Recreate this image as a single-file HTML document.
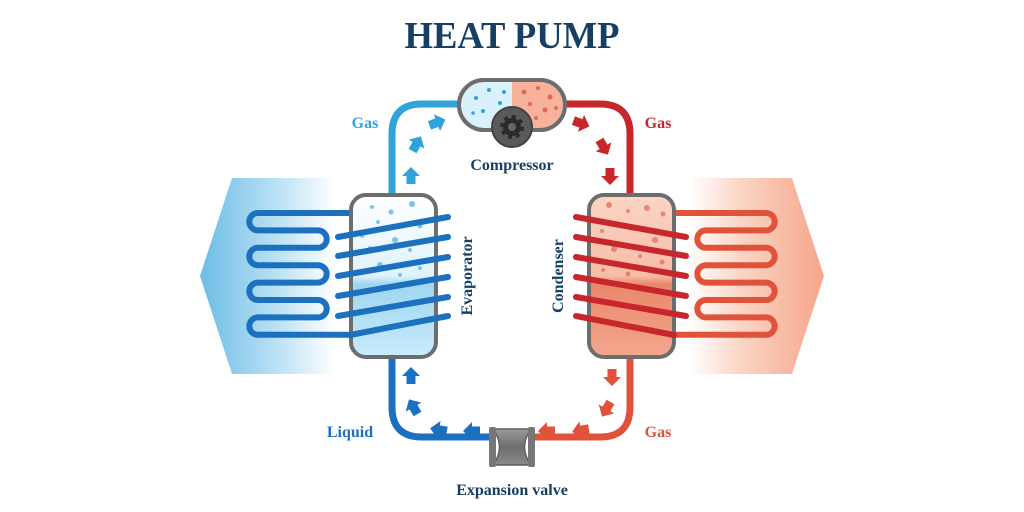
<!DOCTYPE html>
<html><head><meta charset="utf-8"><style>
html,body{margin:0;padding:0;background:#fff;width:1024px;height:512px;overflow:hidden}
svg{display:block}
text{font-family:"Liberation Serif",serif;font-weight:bold}
</style></head><body>
<svg width="1024" height="512" viewBox="0 0 1024 512" xmlns="http://www.w3.org/2000/svg">
<defs>
<linearGradient id="lb" x1="0" x2="1" y1="0" y2="0"><stop offset="0" stop-color="#6cbde6"/><stop offset="0.6" stop-color="#bfe3f5"/><stop offset="1" stop-color="#fff"/></linearGradient>
<linearGradient id="rb" x1="1" x2="0" y1="0" y2="0"><stop offset="0" stop-color="#f6a58a"/><stop offset="0.6" stop-color="#fbd3c3"/><stop offset="1" stop-color="#fff"/></linearGradient>
<linearGradient id="et" x1="0" x2="0" y1="0" y2="1"><stop offset="0" stop-color="#fff"/><stop offset="0.5" stop-color="#dff2fb"/><stop offset="0.55" stop-color="#9fd6f0"/><stop offset="1" stop-color="#c8ecfa"/></linearGradient>
<linearGradient id="ct" x1="0" x2="0" y1="0" y2="1"><stop offset="0" stop-color="#fbd5c6"/><stop offset="0.5" stop-color="#f7bda6"/><stop offset="0.55" stop-color="#ea876b"/><stop offset="1" stop-color="#f3a88e"/></linearGradient>
<linearGradient id="vg" x1="0" x2="0" y1="0" y2="1"><stop offset="0" stop-color="#9a9a9a"/><stop offset="0.5" stop-color="#6e6e6e"/><stop offset="1" stop-color="#8a8a8a"/></linearGradient>
<g id="ar"><path d="M-7,-4.5 L1,-4.5 L1,-9 L10,0 L1,9 L1,4.5 L-7,4.5 Z"/></g>
</defs>

<text x="512" y="48" text-anchor="middle" font-size="38" fill="#163f63" textLength="215" lengthAdjust="spacingAndGlyphs">HEAT PUMP</text>

<polygon points="232,178 335,178 335,374 232,374 200,276" fill="url(#lb)"/>
<polygon points="792,178 689,178 689,374 792,374 824,276" fill="url(#rb)"/>

<path d="M392,193 V134 Q392,104 422,104 H460" fill="none" stroke="#2ea3dc" stroke-width="7"/>
<path d="M564,104 H600 Q630,104 630,134 V193" fill="none" stroke="#c8262d" stroke-width="7"/>
<path d="M392,358 V407 Q392,437 422,437 H492" fill="none" stroke="#1b70c0" stroke-width="7"/>
<path d="M532,437 H600 Q630,437 630,407 V358" fill="none" stroke="#e0533a" stroke-width="7"/>

<g fill="#2ea3dc">
<use href="#ar" transform="translate(411,177) rotate(-90)"/>
<use href="#ar" transform="translate(416,145) rotate(-60)"/>
<use href="#ar" transform="translate(436,123) rotate(-20)"/>
</g>
<g fill="#c8262d">
<use href="#ar" transform="translate(580,123) rotate(20)"/>
<use href="#ar" transform="translate(603,146) rotate(60)"/>
<use href="#ar" transform="translate(610,175) rotate(90)"/>
</g>
<g fill="#e0533a">
<use href="#ar" transform="translate(612,376) rotate(90)"/>
<use href="#ar" transform="translate(607,408) rotate(120)"/>
<use href="#ar" transform="translate(582,430) rotate(170)"/>
<use href="#ar" transform="translate(548,431) rotate(180)"/>
</g>
<g fill="#1b70c0">
<use href="#ar" transform="translate(473,431) rotate(180)"/>
<use href="#ar" transform="translate(440,430) rotate(190)"/>
<use href="#ar" transform="translate(414,408) rotate(240)"/>
<use href="#ar" transform="translate(411,377) rotate(270)"/>
</g>

<path d="M350,213 H258 a8.7,8.7 0 0 0 0,17.4 H318 a8.7,8.7 0 0 1 0,17.4 H258 a8.7,8.7 0 0 0 0,17.4 H318 a8.7,8.7 0 0 1 0,17.4 H258 a8.7,8.7 0 0 0 0,17.4 H318 a8.7,8.7 0 0 1 0,17.4 H258 a8.7,8.7 0 0 0 0,17.4 H350" fill="none" stroke="#1b70c0" stroke-width="6"/>
<path d="M674,213 H766 a8.7,8.7 0 0 1 0,17.4 H706 a8.7,8.7 0 0 0 0,17.4 H766 a8.7,8.7 0 0 1 0,17.4 H706 a8.7,8.7 0 0 0 0,17.4 H766 a8.7,8.7 0 0 1 0,17.4 H706 a8.7,8.7 0 0 0 0,17.4 H766 a8.7,8.7 0 0 1 0,17.4 H674" fill="none" stroke="#e0533a" stroke-width="6"/>

<rect x="351" y="195" width="85" height="162" rx="15" fill="url(#et)" stroke="#6d6d6d" stroke-width="4"/>
<rect x="589" y="195" width="85" height="162" rx="15" fill="url(#ct)" stroke="#6d6d6d" stroke-width="4"/>
<g fill="#5cb8e6" opacity="0.8">
<circle cx="372" cy="207" r="2"/><circle cx="391" cy="212" r="2.5"/><circle cx="412" cy="204" r="3"/><circle cx="378" cy="222" r="2"/><circle cx="420" cy="226" r="2.5"/><circle cx="395" cy="240" r="3"/><circle cx="370" cy="248" r="2"/><circle cx="410" cy="250" r="2"/><circle cx="380" cy="265" r="3"/><circle cx="420" cy="268" r="2"/><circle cx="400" cy="275" r="2"/><circle cx="362" cy="236" r="2"/></g>
<g fill="#e06a55" opacity="0.7">
<circle cx="609" cy="205" r="3"/><circle cx="628" cy="211" r="2"/><circle cx="647" cy="208" r="3"/><circle cx="663" cy="214" r="2.5"/><circle cx="602" cy="231" r="2"/><circle cx="632" cy="228" r="2.5"/><circle cx="655" cy="240" r="3"/><circle cx="614" cy="249" r="3"/><circle cx="640" cy="256" r="2"/><circle cx="662" cy="262" r="2.5"/><circle cx="603" cy="270" r="2"/><circle cx="628" cy="274" r="2.5"/></g>

<g stroke="#1b70c0" stroke-width="6" stroke-linecap="round">
<line x1="338" y1="237" x2="448" y2="217"/><line x1="338" y1="256" x2="448" y2="237"/><line x1="338" y1="276" x2="448" y2="257"/><line x1="338" y1="296" x2="448" y2="277"/><line x1="338" y1="316" x2="448" y2="297"/><line x1="350" y1="335" x2="448" y2="316"/>
</g>
<g stroke="#c8262d" stroke-width="6" stroke-linecap="round">
<line x1="686" y1="237" x2="576" y2="217"/><line x1="686" y1="256" x2="576" y2="237"/><line x1="686" y1="276" x2="576" y2="257"/><line x1="686" y1="296" x2="576" y2="277"/><line x1="686" y1="316" x2="576" y2="297"/><line x1="674" y1="335" x2="576" y2="316"/>
</g>

<rect x="459" y="80" width="106" height="50" rx="25" fill="#d9f1fb" stroke="#6d6d6d" stroke-width="4"/>
<path d="M512,82 H540 a23,23 0 0 1 0,46 H512 Z" fill="#f7b29b"/>
<rect x="459" y="80" width="106" height="50" rx="25" fill="none" stroke="#6d6d6d" stroke-width="4"/>
<g fill="#2ea3dc"><circle cx="476" cy="98" r="2"/><circle cx="489" cy="90" r="2"/><circle cx="500" cy="103" r="2"/><circle cx="483" cy="111" r="2"/><circle cx="496" cy="118" r="2"/><circle cx="504" cy="92" r="2"/><circle cx="473" cy="113" r="1.8"/></g>
<g fill="#e06a55"><circle cx="524" cy="92" r="2.5"/><circle cx="538" cy="88" r="2"/><circle cx="550" cy="97" r="2.5"/><circle cx="530" cy="104" r="2"/><circle cx="545" cy="110" r="2.5"/><circle cx="556" cy="108" r="2"/><circle cx="536" cy="118" r="2"/></g>
<circle cx="512" cy="127" r="20" fill="#5a5a5a" stroke="#444" stroke-width="2"/>
<circle cx="512" cy="127" r="9" fill="#2b2b2b" stroke="#2b2b2b" stroke-width="6" stroke-dasharray="3.5 3.5"/>
<circle cx="512" cy="127" r="4" fill="#666"/>

<path d="M493,429 H531 Q518,447 531,465 H493 Q506,447 493,429 Z" fill="url(#vg)" stroke="#5e5e5e" stroke-width="1.5"/>
<rect x="489" y="427" width="7" height="40" rx="2" fill="#777"/>
<rect x="528" y="427" width="7" height="40" rx="2" fill="#777"/>

<text x="365" y="128" text-anchor="middle" font-size="16" fill="#2ea3dc">Gas</text>
<text x="658" y="128" text-anchor="middle" font-size="16" fill="#c8262d">Gas</text>
<text x="512" y="170" text-anchor="middle" font-size="16" fill="#163f63">Compressor</text>
<text x="350" y="437" text-anchor="middle" font-size="16" fill="#1b70c0">Liquid</text>
<text x="658" y="437" text-anchor="middle" font-size="16" fill="#e0533a">Gas</text>
<text x="512" y="495" text-anchor="middle" font-size="16" fill="#163f63">Expansion valve</text>
<text transform="translate(472,276) rotate(-90)" text-anchor="middle" font-size="16" fill="#163f63">Evaporator</text>
<text transform="translate(563,276) rotate(-90)" text-anchor="middle" font-size="16" fill="#163f63">Condenser</text>
</svg>
</body></html>
